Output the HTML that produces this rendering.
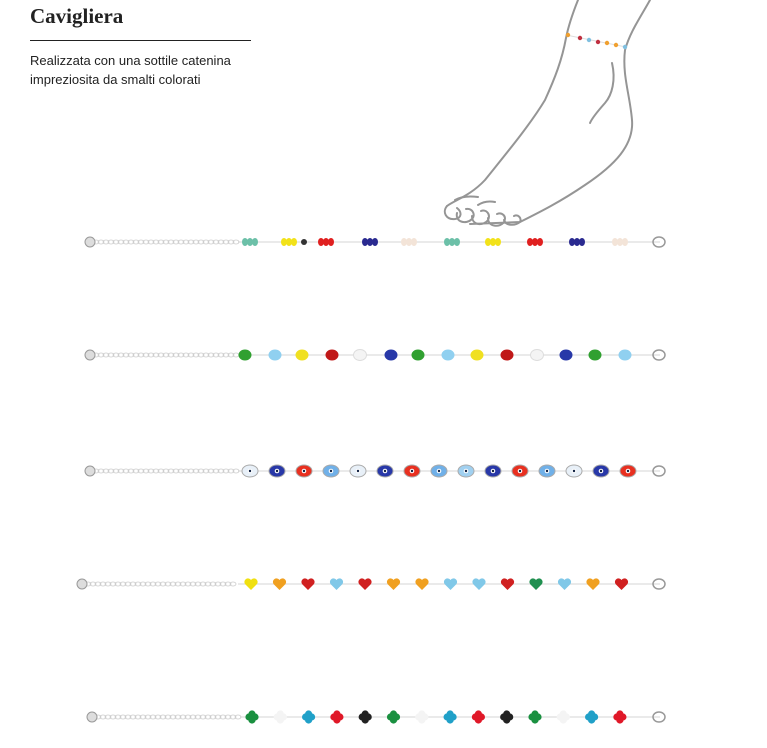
<!DOCTYPE html>
<html><head><meta charset="utf-8"><style>
html,body{margin:0;padding:0;background:#fff;width:767px;height:748px;overflow:hidden}
.t{position:absolute;left:30px;top:4px;font-family:"Liberation Serif",serif;font-weight:bold;font-size:21px;color:#222}
.l{position:absolute;left:30px;top:40px;width:221px;height:1px;background:#222}
.d{position:absolute;left:30px;top:51px;font-family:"Liberation Sans",sans-serif;font-size:13px;line-height:19px;color:#222}
svg{position:absolute;left:0;top:0}
</style></head><body>
<div class="t">Cavigliera</div><div class="l"></div>
<div class="d">Realizzata con una sottile catenina<br>impreziosita da smalti colorati</div>
<svg id="s" width="767" height="748" viewBox="0 0 767 748">
<g fill="none" stroke="#959595" stroke-width="2" stroke-linecap="round">
<path d="M578,0 C572,15 568,28 566,38 C562,60 555,78 545,100 C530,125 505,155 485,180 C470,196 455,200 447,206"/>
<path d="M650,0 C640,18 630,32 625,50 C622,75 630,95 632,120 C634,145 615,165 585,185 C560,202 540,212 520,222 L470,224"/>
<path d="M612,63 C616,80 612,95 605,103 C597,112 592,118 590,123"/>
<path d="M447,206 C442,212 446,220 455,219 C462,218 462,212 457,208 M457,213 C455,222 466,225 472,219 C476,214 472,208 466,209 M472,216 C472,226 484,226 488,220 C491,214 486,209 481,211 M488,218 C488,227 500,228 504,222 C507,216 502,212 497,214 M504,220 C506,226 515,226 520,222 C522,218 518,214 514,216 M455,200 C462,196 470,196 478,197 M478,205 C484,201 490,201 495,202"/>
</g>
<g stroke="#ddd" stroke-width="1"><line x1="566" y1="35" x2="626" y2="47"/></g>
<g id="b"></g>
</svg>
<script>
var g=document.getElementById('b'),ns='http://www.w3.org/2000/svg';
function el(n,a){var e=document.createElementNS(ns,n);for(var k in a)e.setAttribute(k,a[k]);g.appendChild(e);return e;}
[['#f0a030',568,35],['#c03040',580,38],['#80c0e0',589,40],['#c03040',598,42],['#f0a030',607,43],['#f0a030',616,45],['#80c0e0',625,47]].forEach(function(b){el('circle',{cx:b[1],cy:b[2],r:2.2,fill:b[0]});});
function chain(y,x0,x1){
 for(var x=x0;x<x1;x+=5)el('ellipse',{cx:x,cy:y,rx:3,ry:2,fill:'none',stroke:'#ccc','stroke-width':0.8});
 el('circle',{cx:x0-6,cy:y,r:5,fill:'#ddd',stroke:'#999','stroke-width':1});
 el('line',{x1:x1,y1:y,x2:660,y2:y,stroke:'#d4d4d4','stroke-width':1.1});
 el('ellipse',{cx:659,cy:y,rx:6,ry:5,fill:'none',stroke:'#999','stroke-width':1.5});
}
var Y=242;chain(Y,96,238);
[[250,'#6cc0a8'],[289,'#f2e21a'],[326,'#e02020'],[370,'#2a2a90'],[409,'#f3e4d8'],[452,'#6cc0a8'],[493,'#f2e21a'],[535,'#e02020'],[577,'#2a2a90'],[620,'#f3e4d8']].forEach(function(b){for(var i=-1;i<=1;i++)el('ellipse',{cx:b[0]+i*5,cy:Y,rx:3,ry:4,fill:b[1]});});
el('circle',{cx:304,cy:Y,r:3,fill:'#333'});
Y=355;chain(Y,96,238);
var c2=['#30a030','#90d0f0','#f0e020','#c01818','#f4f4f4','#2838a8','#30a030','#90d0f0','#f0e020','#c01818','#f4f4f4','#2838a8','#30a030','#90d0f0'];
[245,275,302,332,360,391,418,448,477,507,537,566,595,625].forEach(function(x,i){el('ellipse',{cx:x,cy:Y,rx:6.5,ry:5.5,fill:c2[i],stroke:c2[i]=='#f4f4f4'?'#ddd':'none'});});
Y=471;chain(Y,96,238);
var c3=['#e8f0f8','#2838a8','#e83020','#70b0e8','#e8f0f8','#2838a8','#e83020','#70b0e8','#a0d0f0','#2838a8','#e83020','#70b0e8','#e8f0f8','#2838a8','#e83020'];
c3.forEach(function(c,i){var x=250+i*27;el('ellipse',{cx:x,cy:Y,rx:8,ry:6,fill:c,stroke:'#aaa','stroke-width':1});el('circle',{cx:x,cy:Y,r:2.3,fill:'#fff'});el('circle',{cx:x,cy:Y,r:1.2,fill:'#124'});});
Y=584;chain(Y,88,238);
var c4=['#f0e010','#f0a020','#d02020','#80c8e8','#d02020','#f0a020','#f0a020','#80c8e8','#80c8e8','#d02020','#209050','#80c8e8','#f0a020','#d02020'];
c4.forEach(function(c,i){var x=251+i*28.5;el('path',{d:'M'+x+','+(Y+6)+' L'+(x-6)+','+(Y)+' A3.2,3.2 0 0 1 '+x+','+(Y-4)+' A3.2,3.2 0 0 1 '+(x+6)+','+Y+' Z',fill:c});});
Y=717;chain(Y,98,240);
var c5=['#1a9040','#f4f4f4','#20a0c8','#e01828','#222','#1a9040','#f4f4f4','#20a0c8','#e01828','#222','#1a9040','#f4f4f4','#20a0c8','#e01828'];
c5.forEach(function(c,i){var x=252+i*28.3;[[0,-3],[0,3],[-3,0],[3,0]].forEach(function(o){el('circle',{cx:x+o[0],cy:Y+o[1],r:3.6,fill:c});});});
</script>
</body></html>
